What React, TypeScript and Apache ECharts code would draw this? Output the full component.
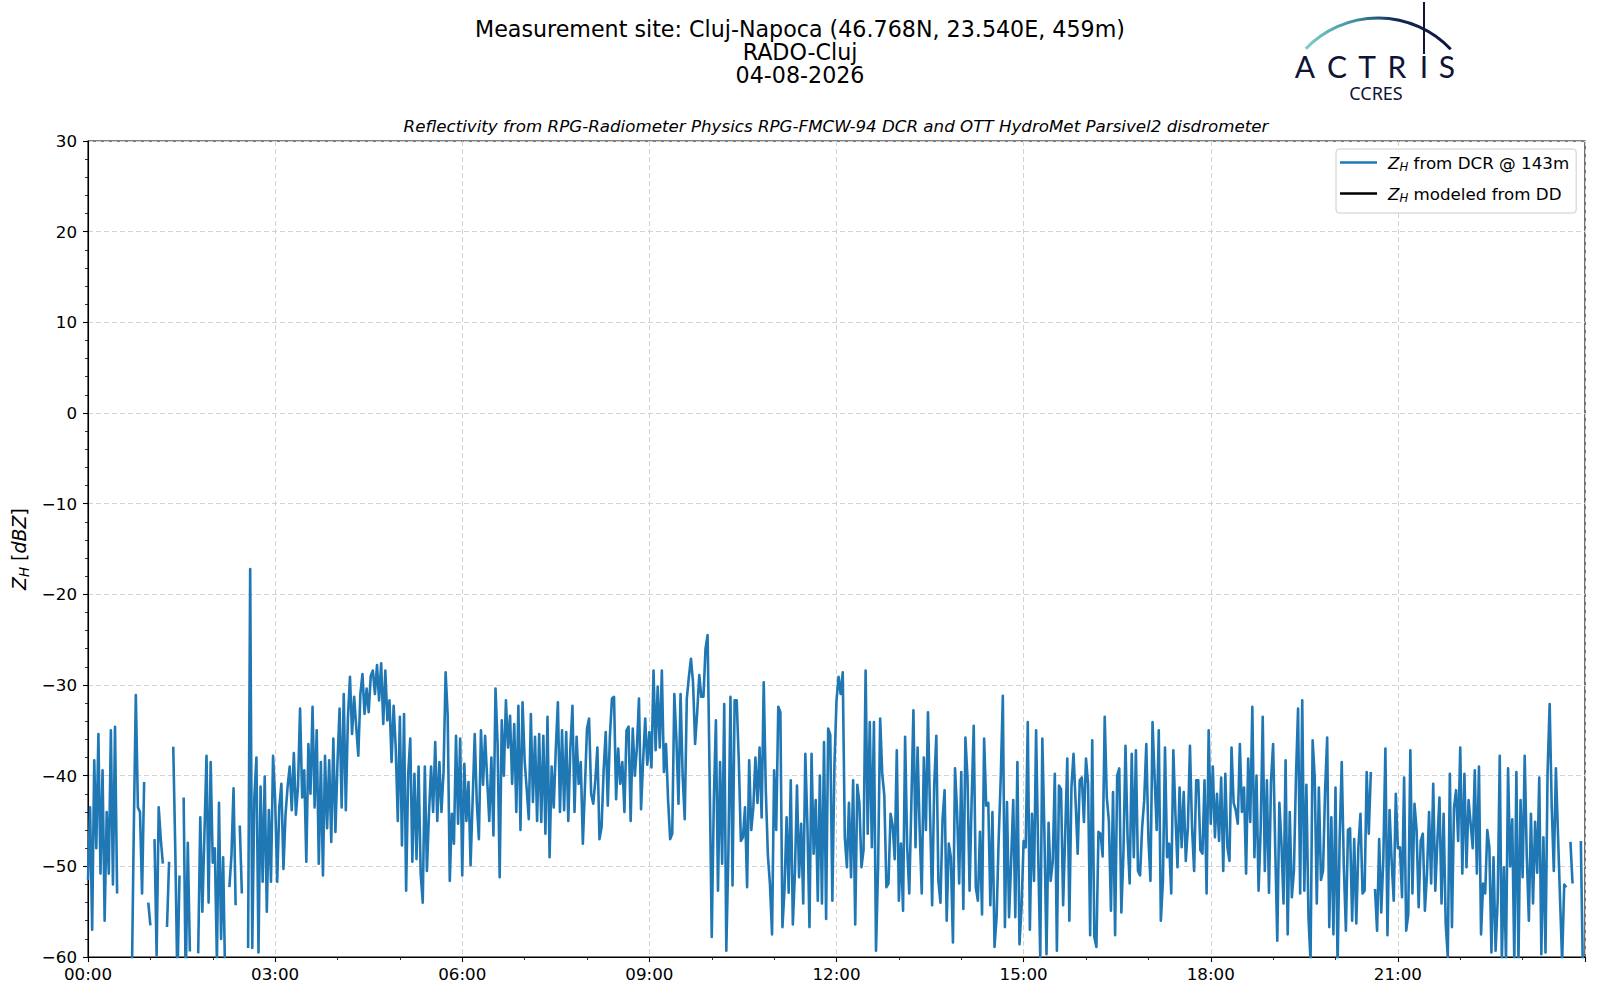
import React, { useEffect, useRef } from "react";
import * as echarts from "echarts";

// ---- data: Z_H from DCR, 2-minute samples (dBZ), null = no data ----
const zh00_03 = [
  -51.5, -43.5, -57, -38.3, -48, -35.4, -50.8, -39.4, -56, -44,
  -50.8, -35, -52, -34.6, -53, null, null, null, null, null,
  null, -64, -46.3, -31.1, -43.5, -44, -53, -40.7, null, -54,
  -56.5, null, -47, -59.8, -43.5, -47, -49.7, null, -56.7, -49.5,
  null, -36.8, -48.4, -63, -51, null, -42.4, -63, -47.4, -59.4,
  null, null, null, -59.6, -44.6, -55, -46.4, -37.8, -54, -38.5,
  -49.6, -48, -60.5, -43, -58, -49, -63, null, -52.3, -48.8,
  -41.4, -54.3, null, -45.5, -53, null, null, -59, -17.2, -59,
  -42.4, -38, -59.5, -41.2, -51.7, -40.1, -55, -43.8, -51.7, -37.8,
];
const zh03_06 = [
  -42.6, -51.7, -43.5, -40.9, -50.3, -44.3, -41.2, -39, -43.8, -37.5,
  -44.3, -41.2, -32.6, -42.4, -39.4, -49.5, -36.5, -42, -32.4, -43.5,
  -35, -49.7, -38.5, -51, -37.8, -45.8, -38.3, -47.3, -35.9, -46.2,
  -38.5, -32.6, -43.5, -31, -43.8, -33.7, -29.1, -35.4, -31.3, -34.6,
  -37.8, -31, -28.8, -33.2, -30.4, -33, -29, -28.4, -31, -27.8,
  -31.7, -27.6, -34.3, -28.4, -33.9, -31.7, -38.5, -32.3, -36.9, -45,
  -33.5, -47.7, -33.2, -52.7, -39.8, -35.9, -49.5, -39.8, -49.2, -39,
  -50.8, -54, -39, -50.5, -44.2, -39, -44, -36.3, -45, -38.5,
  -44, -39.6, -28.6, -33.4, -51.6, -44.2, -47.5, -35.6, -45.3, -35.9,
];
const zh06_09 = [
  -51, -38.7, -45, -40.7, -49.9, -42.7, -35.4, -43, -47, -35,
  -41, -35.6, -40.5, -45, -38, -46.6, -30.4, -36.5, -51.2, -33.9,
  -40, -31.7, -36.9, -33.4, -40.9, -34.3, -44, -32.3, -46, -31.9,
  -38.3, -41.5, -44.8, -33.2, -42.9, -35.7, -45, -35.4, -45.1, -35.6,
  -46.4, -33.5, -49, -39, -43.5, -37, -31.9, -44, -35, -43.8,
  -35.2, -45, -36.9, -32.3, -44, -35.7, -40.9, -38.5, -47.5, -41.3,
  -34.8, -33.7, -42, -43.1, -40.5, -36.9, -47, -45.7, -39.4, -35.2,
  -43.3, -35.7, -31.5, -31.3, -42.6, -37, -40.9, -38.5, -44, -35,
  -34.6, -45, -34.8, -40, -36.9, -31.5, -43.7, -38.3, -33.7, -38.8,
];
const zh09_12 = [
  -35.2, -39.1, -28.4, -37.2, -30.2, -36.9, -28.4, -39.6, -36.5, -42.7,
  -47, -46.4, -31, -36, -43.1, -31, -40, -44.8, -31.5, -29.1,
  -27.1, -29.7, -36.5, -33, -28.9, -31.3, -31.3, -26, -24.5, -40.5,
  -57.8, -42.7, -33.9, -52.7, -38.5, -49.7, -32.1, -59.3, -48.5, -31.3,
  -52.1, -31.7, -31.7, -38.3, -47.2, -46.8, -43.5, -52.3, -38.3, -46,
  -43.5, -38, -43, -36.9, -44.6, -29.7, -41.6, -48.8, -52, -57.5,
  -39.4, -46, -32.4, -33, -56.7, -52.5, -44.6, -52.9, -40.5, -56.4,
  -50.7, -41.1, -51.2, -45.3, -54.1, -37.6, -45.3, -56.7, -37.6, -48.6,
  -42.7, -53.8, -40, -54.1, -36.3, -55.8, -34.8, -35.5, -53.8, -38.9,
];
const zh12_15 = [
  -31.7, -29.1, -31, -28.6, -46.8, -50.1, -43, -51.2, -40.5, -56.4,
  -41, -43, -50.1, -48.2, -28.4, -46.4, -34.1, -47.9, -34.1, -59.3,
  -50.1, -33.7, -39.8, -42.2, -52.3, -51.9, -44.2, -45.5, -49.2, -37.2,
  -53.8, -47.5, -54.9, -35.7, -47.9, -53, -43.1, -32.8, -47.9, -36.9,
  -46, -53, -38, -46, -33, -44.2, -54.3, -41, -35.6, -51.6,
  -54, -44.8, -41.6, -56, -47.5, -49, -58.4, -39.2, -44, -51.9,
  -39.6, -54.7, -35.8, -40.2, -52.7, -42.7, -34.5, -52.3, -53.8, -46.2,
  -55.3, -35.9, -43.3, -43, -54.3, -44, -58.9, -55.6, -47, -40.2,
  -31.2, -56.7, -42.9, -55.6, -49.4, -42.7, -55.6, -38.5, -58.6, -54.5,
];
const zh15_18 = [
  -47.2, -47.9, -34.1, -57, -44.2, -51.6, -35, -48.6, -60, -35.9,
  -46.4, -59.7, -45.2, -51.6, -49.5, -39.8, -59.3, -41.1, -41.5, -54.3,
  -46.4, -38.1, -56, -41.3, -37.6, -42.9, -48.6, -40.5, -40.2, -45.1,
  -38.1, -40.9, -57.6, -36.1, -57.8, -58.9, -46.2, -46.4, -48.9, -33.5,
  -42.4, -45, -54.9, -41.8, -57.6, -40, -39.2, -55.1, -48.6, -36.7,
  -46.8, -51.9, -37.6, -49, -37.2, -50.5, -51, -45.7, -42.7, -36.5,
  -46.8, -51.6, -34.1, -40.2, -46, -35, -56, -51.6, -36.9, -49,
  -47.5, -53, -37.2, -44.2, -50.1, -41.3, -47.9, -41.8, -49.4, -45.7,
  -36.7, -45.7, -50.5, -40.5, -40.5, -48.2, -48.6, -40.5, -53, -35,
];
const zh18_21 = [
  -45.3, -39, -46.8, -42, -47.2, -40.2, -50.5, -39.8, -47.9, -49.4,
  -36.9, -43, -43.8, -45.3, -36.5, -44, -41.3, -50.8, -38.1, -45.1,
  -32.4, -49, -40, -52.7, -46, -33.5, -50.5, -40.5, -52.9, -40.5,
  -36.5, -47.9, -58.2, -43, -47.5, -54.1, -38.3, -57.5, -44, -53.4,
  -50.5, -40, -32.6, -53, -31.7, -52.7, -41, -55.6, -60.5, -36.1,
  -40.2, -54.1, -41.3, -51.5, -50.5, -41.6, -35.8, -56.7, -44.6, -57.5,
  -41.3, -61, -47, -38.5, -50, -57.1, -46, -45.8, -56, -47,
  -56.3, -47.9, -44.2, -53, -52.7, -39.6, -46.4, -39.6, null, -52.5,
  -57.1, -47, -55.1, -49.2, -37, -57.6, -43.8, -49.4, -53.8, -42,
];
const zh21_24 = [
  -48, -47.9, -53.4, -40.2, -57.1, -55.3, -37.2, -53, -43.1, -46,
  -54.5, -47.2, -46.4, -54.9, -50.8, -44, -51.9, -40.9, -52.7, -47.2,
  -42.4, -54.1, -44.2, -56.3, -60, -39.8, -56.7, -43.5, -41.6, -47.2,
  -36.9, -50.8, -39.8, -50.1, -42.7, -45.3, -48, -39.4, -50.8, -39,
  -57.5, -51.9, -53, -46, -47.9, -59.5, -49, -59.3, -53.8, -37.8,
  -60.5, -50.1, -60.3, -39.2, -50, -44.8, -60.5, -39.6, -60.5, -42.7,
  -51.2, -37.8, -48.9, -56, -44.2, -54.1, -45.1, -50.7, -40.2, -59.7,
  -46.8, -59.5, -39.6, -32.1, -43.5, -50.5, -39.2, -46.4, -53.6, -60.5,
  -52, -52.3, null, -47.3, -51.9, null, null, null, -47.2, -62,
];
// modeled Z_H from disdrometer: no data on this day
const zhModeled: (number | null)[] = [];

const SAMPLE_HOURS = 2 / 60;
const xTickLabels = ["00:00", "03:00", "06:00", "09:00", "12:00", "15:00", "18:00", "21:00", ""];
const yTickLabels = ["\u221260", "\u221250", "\u221240", "\u221230", "\u221220", "\u221210", "0", "10", "20", "30"];

const SERIES_DCR = "Z_H from DCR @ 143m";
const SERIES_DD = "Z_H modeled from DD";

const FONT = "DejaVu Sans";
const NAVY = "#0f1437";

const legendRich = {
  zl: { fontFamily: FONT, fontStyle: "italic", fontSize: 16.7, color: "#000", padding: [0, 0, 0, 6] },
  h: { fontFamily: FONT, fontStyle: "italic", fontSize: 11.7, color: "#000", padding: [9, 0, 0, 0] },
  n: { fontFamily: FONT, fontSize: 16.7, color: "#000" },
};
const axisNameRich = {
  z: { fontFamily: FONT, fontStyle: "italic", fontSize: 19, color: "#000" },
  h: { fontFamily: FONT, fontStyle: "italic", fontSize: 13.3, color: "#000", padding: [10, 0, 0, 0] },
  n: { fontFamily: FONT, fontSize: 19, color: "#000" },
};

export default function App() {
  const ref = useRef<HTMLDivElement>(null);

  useEffect(() => {
    document.body.style.margin = "0";
    if (!ref.current) return;
    const chart = echarts.init(ref.current, undefined, { renderer: "svg" });

    const zhDcr = [
      ...zh00_03, ...zh03_06, ...zh06_09, ...zh09_12,
      ...zh12_15, ...zh15_18, ...zh18_21, ...zh21_24,
    ];
    const dcrData = zhDcr.map((v, i) => [i * SAMPLE_HOURS, v]);
    const ddData = zhModeled.map((v, i) => [i * SAMPLE_HOURS, v]);

    const letters = ["A", "C", "T", "R", "I", "S"];
    const letterX = [1305, 1337, 1367, 1397, 1424, 1447];

    const option: any = {
      animation: false,
      textStyle: { fontFamily: FONT },
      title: [
        {
          text: "Measurement site: Cluj-Napoca (46.768N, 23.540E, 459m)\nRADO-Cluj\n04-08-2026",
          left: 800,
          top: 17,
          textAlign: "center",
          padding: 0,
          textStyle: { fontFamily: FONT, fontSize: 22.2, fontWeight: "normal", color: "#000", lineHeight: 23 },
        },
        {
          text: "Reflectivity from RPG-Radiometer Physics RPG-FMCW-94 DCR and OTT HydroMet Parsivel2 disdrometer",
          left: 836,
          top: 116,
          textAlign: "center",
          padding: 0,
          textStyle: { fontFamily: FONT, fontSize: 16.7, fontStyle: "italic", fontWeight: "normal", color: "#000", lineHeight: 20 },
        },
      ],
      grid: {
        left: 88,
        top: 141,
        width: 1497,
        height: 816,
        show: true,
        borderColor: "#000",
        borderWidth: 1.1,
        backgroundColor: "transparent",
      },
      legend: {
        left: 1336,
        top: 149,
        orient: "vertical",
        icon: "rect",
        itemWidth: 37,
        itemHeight: 2.6,
        itemGap: 12,
        padding: [5, 7, 9, 4],
        borderColor: "#cccccc",
        borderWidth: 1,
        borderRadius: 3,
        backgroundColor: "rgba(255,255,255,0.8)",
        data: [SERIES_DCR, SERIES_DD],
        formatter: (name: string) =>
          name === SERIES_DCR ? "{zl|Z}{h|H}{n| from DCR @ 143m}" : "{zl|Z}{h|H}{n| modeled from DD}",
        textStyle: { rich: legendRich, fontSize: 16.7, color: "#000" },
      },
      xAxis: {
        type: "value",
        min: 0,
        max: 24,
        interval: 3,
        axisLine: { show: true, onZero: false, lineStyle: { color: "#000", width: 1.1 } },
        axisTick: { show: true, inside: false, length: 5, lineStyle: { color: "#000", width: 1.1 } },
        minorTick: { show: true, splitNumber: 3, length: 3, lineStyle: { color: "#000", width: 0.8 } },
        axisLabel: {
          margin: 8,
          fontFamily: FONT,
          fontSize: 16.7,
          color: "#000",
          formatter: (v: number) => xTickLabels[Math.round(v / 3)] ?? "",
        },
        splitLine: { show: true, lineStyle: { color: "#d3d3d3", width: 1, type: [5, 3] } },
      },
      yAxis: {
        type: "value",
        min: -60,
        max: 30,
        interval: 10,
        name: "{z|Z}{h|H}{n| [}{z|dBZ}{n|]}",
        nameLocation: "middle",
        nameRotate: 90,
        nameGap: 46,
        nameTextStyle: { rich: axisNameRich, fontSize: 19, color: "#000" },
        axisLine: { show: true, onZero: false, lineStyle: { color: "#000", width: 1.1 } },
        axisTick: { show: true, inside: false, length: 5, lineStyle: { color: "#000", width: 1.1 } },
        minorTick: { show: true, splitNumber: 5, length: 3, lineStyle: { color: "#000", width: 0.8 } },
        axisLabel: {
          margin: 11,
          fontFamily: FONT,
          fontSize: 16.7,
          color: "#000",
          formatter: (v: number) => yTickLabels[Math.round((v + 60) / 10)] ?? "",
        },
        splitLine: { show: true, lineStyle: { color: "#d3d3d3", width: 1, type: [5, 3] } },
      },
      series: [
        {
          name: SERIES_DCR,
          type: "line",
          data: dcrData,
          symbol: "none",
          showSymbol: false,
          connectNulls: false,
          clip: true,
          color: "#1f77b4",
          lineStyle: { color: "#1f77b4", width: 2.6, join: "round", cap: "butt" },
          z: 3,
        },
        {
          name: SERIES_DD,
          type: "line",
          data: ddData,
          symbol: "none",
          showSymbol: false,
          color: "#000000",
          lineStyle: { color: "#000000", width: 2.6 },
          z: 4,
        },
      ],
      graphic: [
        {
          type: "arc",
          shape: { cx: 1378, cy: 118.3, r: 100.3, startAngle: -2.375, endAngle: -0.76, clockwise: true },
          style: {
            fill: "none",
            lineWidth: 3,
            stroke: new echarts.graphic.LinearGradient(0, 0, 1, 0, [
              { offset: 0, color: "#7ccfca" },
              { offset: 0.35, color: "#3b8f9c" },
              { offset: 0.62, color: "#13295a" },
              { offset: 1, color: NAVY },
            ]),
          },
          z: 10,
        },
        {
          type: "line",
          shape: { x1: 1424, y1: 2, x2: 1424, y2: 54 },
          style: { stroke: NAVY, lineWidth: 2 },
          z: 10,
        },
        ...letters.map((ch, i) => ({
          type: "text",
          style: {
            x: letterX[i],
            y: 66,
            text: ch,
            textAlign: "center",
            textVerticalAlign: "middle",
            fontFamily: "Lato",
            fontSize: 30,
            lineHeight: 24,
            fill: NAVY,
          },
          z: 10,
        })),
        {
          type: "text",
          style: {
            x: 1376,
            y: 93,
            text: "CCRES",
            textAlign: "center",
            textVerticalAlign: "middle",
            fontFamily: "Noto Sans",
            fontSize: 18,
            lineHeight: 16,
            fill: NAVY,
          },
          z: 10,
        },
      ],
    };

    chart.setOption(option);
    return () => {
      chart.dispose();
    };
  }, []);

  return <div ref={ref} style={{ width: 1600, height: 1000 }} />;
}
